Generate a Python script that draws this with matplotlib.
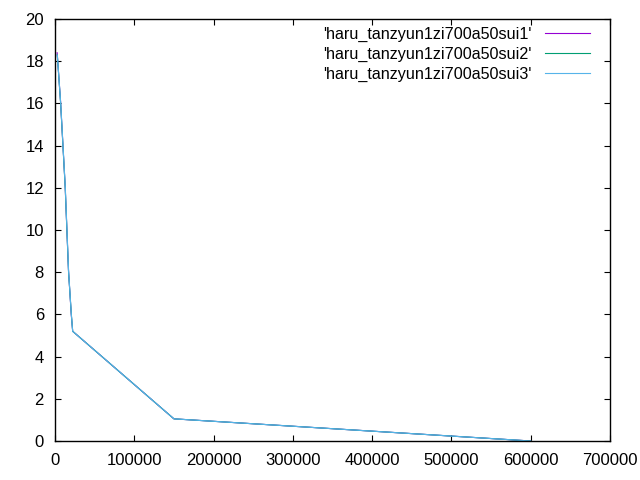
import matplotlib
matplotlib.use('Agg')
import matplotlib.pyplot as plt

plt.rcParams['font.family'] = ['Liberation Sans', 'DejaVu Sans']

# data
x1 = [2700, 7000, 12800, 17000, 20500, 22300, 150000, 600000]
y1 = [18.4, 16.1, 12.1, 8.1, 6.0, 5.2, 1.05, 0.0]
x2 = [2900, 7100, 12900, 17100, 20600, 22300, 150000, 600000]
y2 = [18.3, 16.0, 12.0, 8.0, 6.0, 5.2, 1.05, 0.0]
x3 = [2900, 7200, 13000, 17200, 20600, 22300, 150000, 600000]
y3 = [18.3, 16.0, 12.0, 8.0, 6.0, 5.2, 1.05, 0.0]
labels = ["'haru_tanzyun1zi700a50sui1'",
          "'haru_tanzyun1zi700a50sui2'",
          "'haru_tanzyun1zi700a50sui3'"]

fig = plt.figure(figsize=(6.4, 4.8), dpi=100)
ax = fig.add_axes([55/640, 39/480, 555/640, 422/480])

ax.plot(x1, y1, color='#9400d3', lw=0.8, label=labels[0])
ax.plot(x2, y2, color='#009e73', lw=0.8, label=labels[1])
ax.plot(x3, y3, color='#56b4e9', lw=0.8, label=labels[2])

ax.set_xlim(0, 700000)
ax.set_ylim(0, 20)
ax.set_xticks(range(0, 700001, 100000))
ax.set_yticks(range(0, 21, 2))
ax.tick_params(direction='in', top=True, right=True, length=4.5, labelsize=12)
ax.tick_params(axis='x', pad=8.5)
ax.tick_params(axis='y', pad=8)
for s in ax.spines.values():
    s.set_linewidth(1)

# gnuplot style key: text right-aligned, sample line after it
ax.legend(loc='upper right', bbox_to_anchor=(0.976, 0.996), frameon=False,
          markerfirst=False, fontsize=11.6, handlelength=2.8,
          labelspacing=0.28, borderaxespad=0, handletextpad=0.85)

fig.savefig('out.png', dpi=100)
